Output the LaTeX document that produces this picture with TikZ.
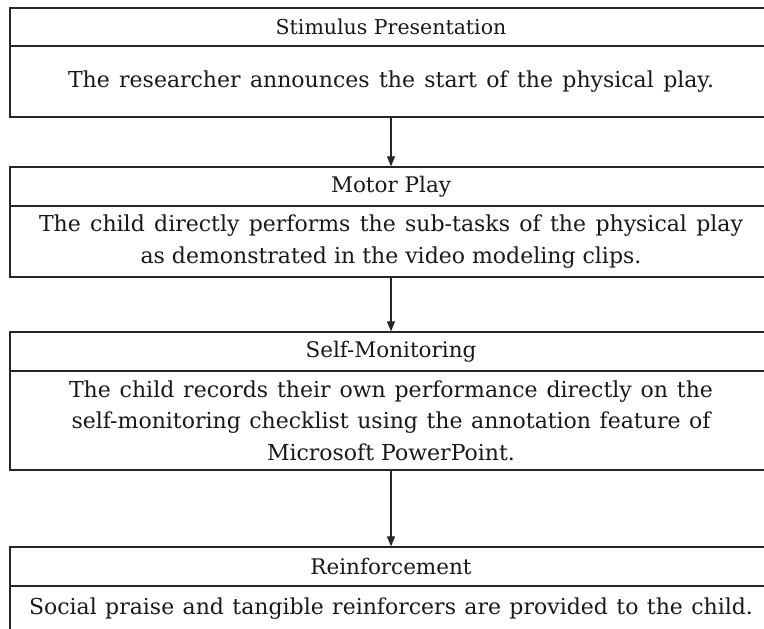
\documentclass[tikz,border=0pt]{standalone}
\usepackage{fontspec}
\setmainfont{DejaVu Serif}
\usetikzlibrary{arrows.meta}
\newcommand{\jline}[2]{\makebox[#1pt][s]{#2}}
\begin{document}
\begin{tikzpicture}[x=1pt,y=-1pt,
  boxline/.style={draw=black!85, line width=1.3pt},
  titlebox/.style={boxline, rectangle, minimum width=762pt, minimum height=39pt, inner sep=0pt, text=black!90, font=\fontsize{21.5}{24}\selectfont},
  bodybox/.style={boxline, rectangle, minimum width=762pt, inner sep=0pt, align=center, text=black!90, font=\fontsize{22}{31.5}\selectfont},
  flow/.style={draw=black!85, line width=1.1pt, -{Triangle[width=8pt,length=10pt]}}]
\useasboundingbox (0,0) rectangle (764,629);
\fill[white] (0,0) rectangle (764,629);
\node[titlebox, minimum height=38pt, font=\fontsize{20.5}{24}\selectfont] (t1) at (391,27) {Stimulus Presentation};
\node[bodybox, minimum height=71pt] (b1) at (391,81.5) {\jline{646}{The researcher announces the start of the physical play.}};
\node[titlebox] (t2) at (391,186.5) {Motor Play};
\node[bodybox, minimum height=71pt] (b2) at (391,241.5) {\jline{704}{The child directly performs the sub-tasks of the physical play}\\as demonstrated in the video modeling clips.};
\node[titlebox] (t3) at (391,351.5) {Self-Monitoring};
\node[bodybox, minimum height=99pt] (b3) at (391,420.5) {\jline{644}{The child records their own performance directly on the}\\\jline{639}{self-monitoring checklist using the annotation feature of}\\Microsoft PowerPoint.};
\node[titlebox] (t4) at (391,566.5) {Reinforcement};
\node[bodybox, minimum height=46pt] (b4) at (391,609) {\jline{724}{Social praise and tangible reinforcers are provided to the child.}};
\draw[flow] (b1.south) -- (t2.north);
\draw[flow] (b2.south) -- (t3.north);
\draw[flow] (b3.south) -- (t4.north);
\end{tikzpicture}
\end{document}
